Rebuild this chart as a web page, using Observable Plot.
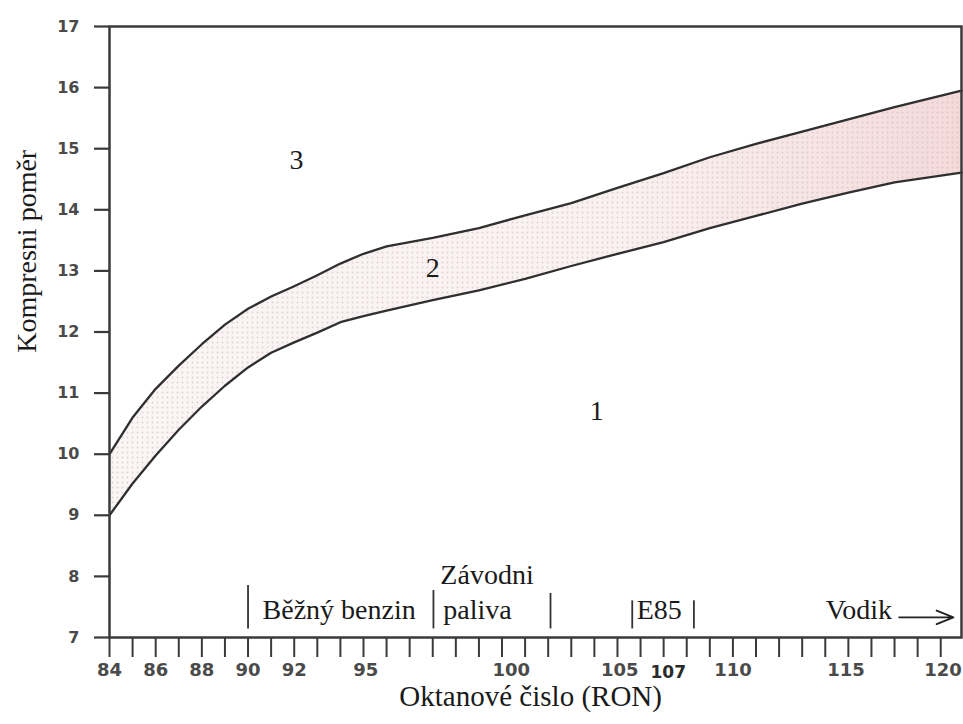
<!DOCTYPE html>
<html><head><meta charset="utf-8">
<script src="https://cdn.jsdelivr.net/npm/d3@7"></script>
<script src="https://cdn.jsdelivr.net/npm/@observablehq/plot@0.6"></script>
<style>html,body{margin:0;padding:0;background:#fff}</style>
</head><body><div id="chart"></div>
<script>
// RON sample positions (in tick units of the bottom axis) and the two boundary curves
const ron   = [84, 85, 86, 87, 88, 89, 90, 91, 92, 93, 94, 95, 96, 98, 100, 102, 104, 106, 108, 110, 112, 114, 116, 118, 120.9];
const upper = [10.0, 10.6, 11.07, 11.45, 11.8, 12.12, 12.38, 12.58, 12.75, 12.93, 13.12, 13.28, 13.4, 13.54, 13.7, 13.91, 14.11, 14.36, 14.6, 14.86, 15.08, 15.28, 15.48, 15.68, 15.95];
const lower = [9.0, 9.52, 9.98, 10.4, 10.78, 11.12, 11.42, 11.66, 11.83, 11.99, 12.16, 12.26, 12.35, 12.52, 12.68, 12.87, 13.08, 13.28, 13.47, 13.7, 13.9, 14.1, 14.28, 14.45, 14.61];

const yTicks = [7, 8, 9, 10, 11, 12, 13, 14, 15, 16, 17];
const xMinorTicks = d3.range(84, 121);
const xTickLabels   = ["84", "86", "88", "90", "92", "95", "100", "105", "107", "110", "115", "120"];
const xTickLabelPos = [84, 86, 88, 90, 92, 95.1, 101.4, 106.1, 108.2, 111.0, 115.9, 120.1];

const regionNames = ["1", "2", "3"];
const regionX = [105.1, 98.0, 92.1];
const regionY = [10.71, 13.04, 14.81];

const fuelBarX   = [90, 98.03, 103.1, 106.64, 109.31];
const fuelBarTop = [7.85, 7.77, 7.72, 7.6, 7.6];

const yTitle = "Kompresni poměr";
const xTitle = "Oktanové čislo (RON)";

const band = ron.map((x, i) => ({x, lo: lower[i], hi: upper[i]}));
const xLab = xTickLabels.map((t, i) => ({t, x: xTickLabelPos[i]}));
const regions = regionNames.map((t, i) => ({t, x: regionX[i], y: regionY[i]}));
const bars = fuelBarX.map((x, i) => ({x, y2: fuelBarTop[i]}));
const fuelTexts = [
  {t: "Běžný benzin", x: 90.63, y: 7.30},
  {t: "Závodni", x: 98.33, y: 7.88},
  {t: "paliva", x: 98.46, y: 7.30},
  {t: "E85", x: 106.83, y: 7.30},
  {t: "Vodik", x: 115.02, y: 7.30}
];

const serif = "Liberation Serif, Times New Roman, serif";
const sans = "DejaVu Sans, sans-serif";

const svg = Plot.plot({
  width: 963, height: 724,
  marginLeft: 109, marginRight: 2, marginTop: 26, marginBottom: 87,
  x: {domain: [84, 120.9], label: null},
  y: {domain: [7, 17], label: null},
  style: {background: "#fff", overflow: "visible"},
  marks: [
    Plot.areaY(band, {x: "x", y1: "lo", y2: "hi", fill: "url(#bandGrad)"}),
    Plot.areaY(band, {x: "x", y1: "lo", y2: "hi", fill: "url(#bandDots)", fillOpacity: 0.55}),
    Plot.line(band, {x: "x", y: "hi", stroke: "#2f2f2f", strokeWidth: 2.3}),
    Plot.line(band, {x: "x", y: "lo", stroke: "#2f2f2f", strokeWidth: 2.3}),
    Plot.frame({stroke: "#3a3a3a", strokeWidth: 2.5}),
    Plot.axisY({ticks: yTicks, tickSize: 15, tickPadding: 15, stroke: "#3a3a3a", strokeWidth: 2.2,
      fill: "#4a4a4a", fontSize: 16, fontWeight: "bold", fontFamily: sans, tickFormat: d => String(d)}),
    Plot.axisX({ticks: xMinorTicks, tickSize: 20, stroke: "#3a3a3a", strokeWidth: 2, tickFormat: () => ""}),
    Plot.text(xLab.filter(d => d.t !== "107"), {x: "x", text: "t", frameAnchor: "bottom", dy: 33, lineAnchor: "middle",
      fill: "#4a4a4a", fontSize: 18, fontWeight: "bold", fontFamily: sans}),
    Plot.text(xLab.filter(d => d.t === "107"), {x: "x", text: "t", frameAnchor: "bottom", dy: 35, lineAnchor: "middle",
      fill: "#2a2a2a", fontSize: 17, fontWeight: "bold", fontFamily: sans}),
    Plot.text(regions, {x: "x", y: "y", text: "t", fontSize: 28, fontFamily: serif, fill: "#1a1a1a", lineAnchor: "middle"}),
    Plot.ruleX(bars, {x: "x", y1: 7.14, y2: "y2", stroke: "#333", strokeWidth: 1.8}),
    Plot.text(fuelTexts, {x: "x", y: "y", text: "t", textAnchor: "start", lineAnchor: "bottom",
      fontSize: 28, fontFamily: serif, fill: "#1a1a1a"}),
    Plot.arrow([{x1: 118.2, x2: 120.55, y: 7.33}], {x1: "x1", x2: "x2", y1: "y", y2: "y",
      headLength: 24, headAngle: 44, stroke: "#222", strokeWidth: 1.9}),
    Plot.text([xTitle], {x: () => 102.24, frameAnchor: "bottom", dy: 68, lineAnchor: "bottom",
      fontSize: 29, fontFamily: serif, fill: "#1a1a1a", text: d => d}),
    Plot.text([yTitle], {y: () => 11.66, frameAnchor: "left", dx: -82, rotate: -90, lineAnchor: "middle",
      fontSize: 28, fontFamily: serif, fill: "#1a1a1a", text: d => d})
  ]
});

const defs = d3.select(svg).insert("defs", ":first-child");
const grad = defs.append("linearGradient").attr("id", "bandGrad")
  .attr("x1", "0").attr("x2", "1").attr("y1", "0").attr("y2", "0");
grad.append("stop").attr("offset", "0").attr("stop-color", "#fcf5f5");
grad.append("stop").attr("offset", "0.6").attr("stop-color", "#faf1f1");
grad.append("stop").attr("offset", "1").attr("stop-color", "#f5dada");
const pat = defs.append("pattern").attr("id", "bandDots")
  .attr("width", 5).attr("height", 5).attr("patternUnits", "userSpaceOnUse");
pat.append("circle").attr("cx", 2.5).attr("cy", 2.5).attr("r", 0.9).attr("fill", "#c2b6b6");

document.getElementById("chart").appendChild(svg);
</script>
</body></html>
